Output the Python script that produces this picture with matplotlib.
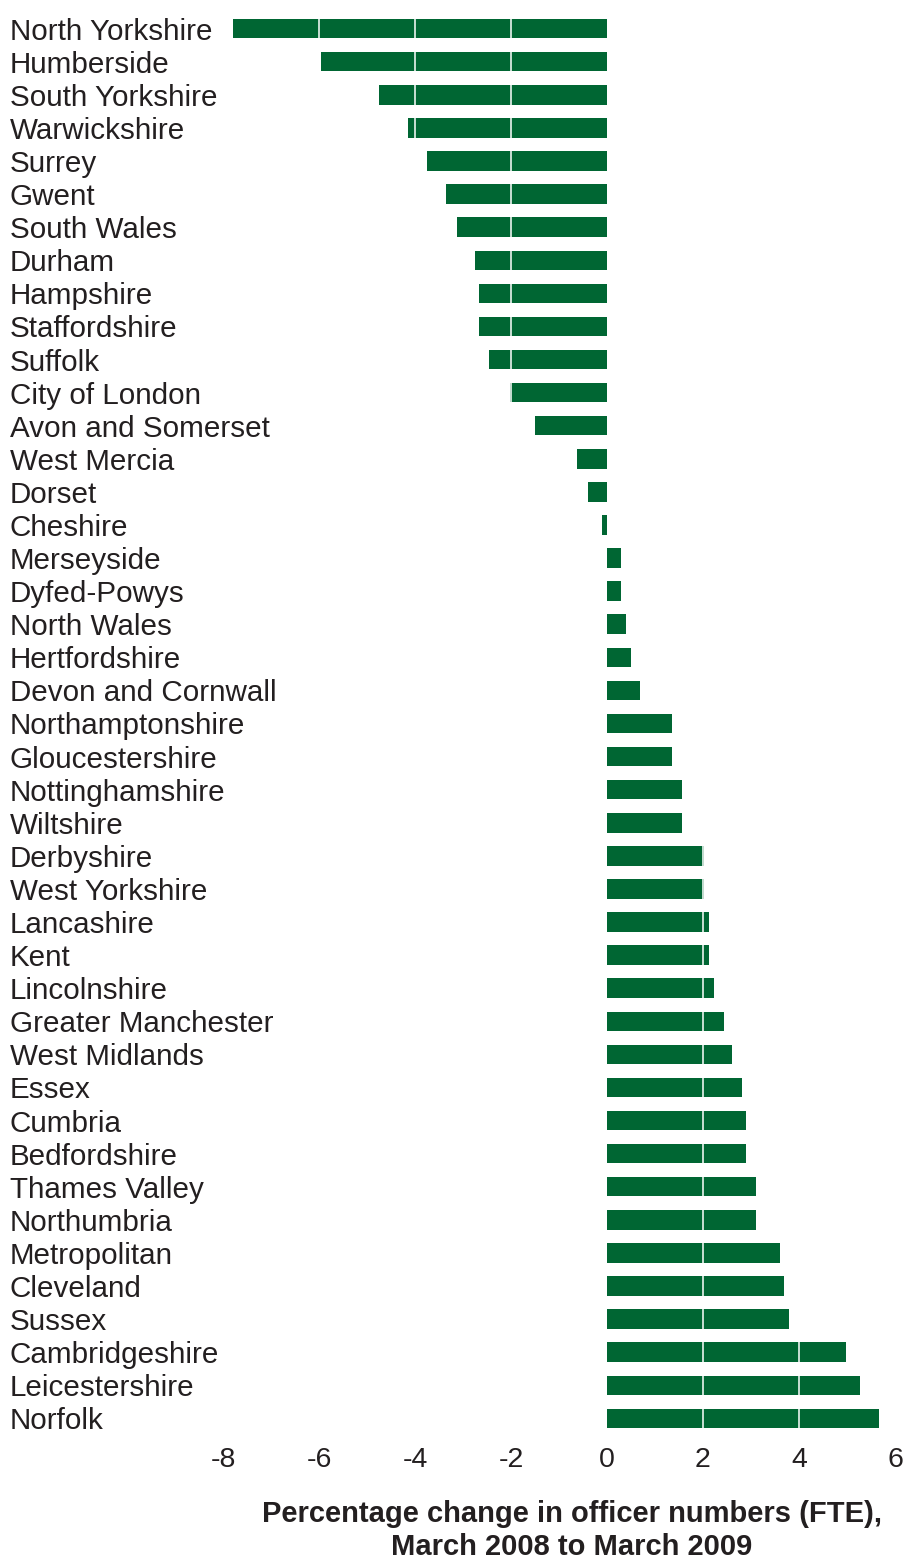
import matplotlib
matplotlib.use("Agg")
import matplotlib.pyplot as plt

# police force areas, top to bottom
forces = ["North Yorkshire", "Humberside", "South Yorkshire", "Warwickshire", "Surrey",
          "Gwent", "South Wales", "Durham", "Hampshire", "Staffordshire", "Suffolk",
          "City of London", "Avon and Somerset", "West Mercia", "Dorset", "Cheshire",
          "Merseyside", "Dyfed-Powys", "North Wales", "Hertfordshire", "Devon and Cornwall",
          "Northamptonshire", "Gloucestershire", "Nottinghamshire", "Wiltshire", "Derbyshire",
          "West Yorkshire", "Lancashire", "Kent", "Lincolnshire", "Greater Manchester",
          "West Midlands", "Essex", "Cumbria", "Bedfordshire", "Thames Valley", "Northumbria",
          "Metropolitan", "Cleveland", "Sussex", "Cambridgeshire", "Leicestershire", "Norfolk"]

# % change in officer numbers (FTE), Mar 2008 -> Mar 2009
pct_change = [-7.8, -5.96, -4.75, -4.15, -3.75,
              -3.35, -3.12, -2.74, -2.66, -2.66, -2.45,
              -2.03, -1.5, -0.62, -0.4, -0.1,
              0.3, 0.3, 0.4, 0.5, 0.69,
              1.35, 1.35, 1.56, 1.56, 2.03,
              2.03, 2.12, 2.12, 2.22, 2.43,
              2.61, 2.82, 2.9, 2.9, 3.11, 3.11,
              3.6, 3.68, 3.79, 4.97, 5.28, 5.67]

xticks = [-8, -6, -4, -2, 0, 2, 4, 6]
grid_at = [-6, -4, -2, 2, 4]

txt = "#231f20"
green = "#006633"
plt.rcParams["font.family"] = ["Liberation Sans", "DejaVu Sans"]

W, H = 904, 1559
fig = plt.figure(figsize=(W / 100, H / 100), dpi=100)

# x axis: zero at ~607px, ~48px per unit
ppu = 48.0
x0, xmax = -8.2, 6.1
left_px = 607 + x0 * ppu
right_px = 607 + xmax * ppu
top_px, bot_px = 12.1, 1434.9
ax = fig.add_axes([left_px / W, 1 - bot_px / H, (right_px - left_px) / W, (bot_px - top_px) / H])

ypos = list(range(len(forces)))
ax.barh(ypos, pct_change, height=0.59, color=green, zorder=2)
for g in grid_at:
    ax.axvline(g, color="white", lw=1.1, zorder=3)

ax.set_xlim(x0, xmax)
ax.set_ylim(len(forces) - 0.5, -0.5)

ax.set_xticks(xticks)
ax.set_xticklabels([str(t) for t in xticks], fontsize=20.5, color=txt)
ax.set_yticks(ypos)
ax.set_yticklabels(forces, fontsize=21.3, color=txt, ha="left")
ax.tick_params(axis="y", length=0, pad=(left_px - 10) * 0.72)
ax.tick_params(axis="x", length=0, pad=9)
for s in ax.spines.values():
    s.set_visible(False)

fig.text(572 / W, 1 - 1530.5 / H, "Percentage change in officer numbers (FTE),\nMarch 2008 to March 2009",
         ha="center", va="center", fontsize=21, fontweight="bold", color=txt, linespacing=1.2)

fig.savefig("out.png", dpi=100)
